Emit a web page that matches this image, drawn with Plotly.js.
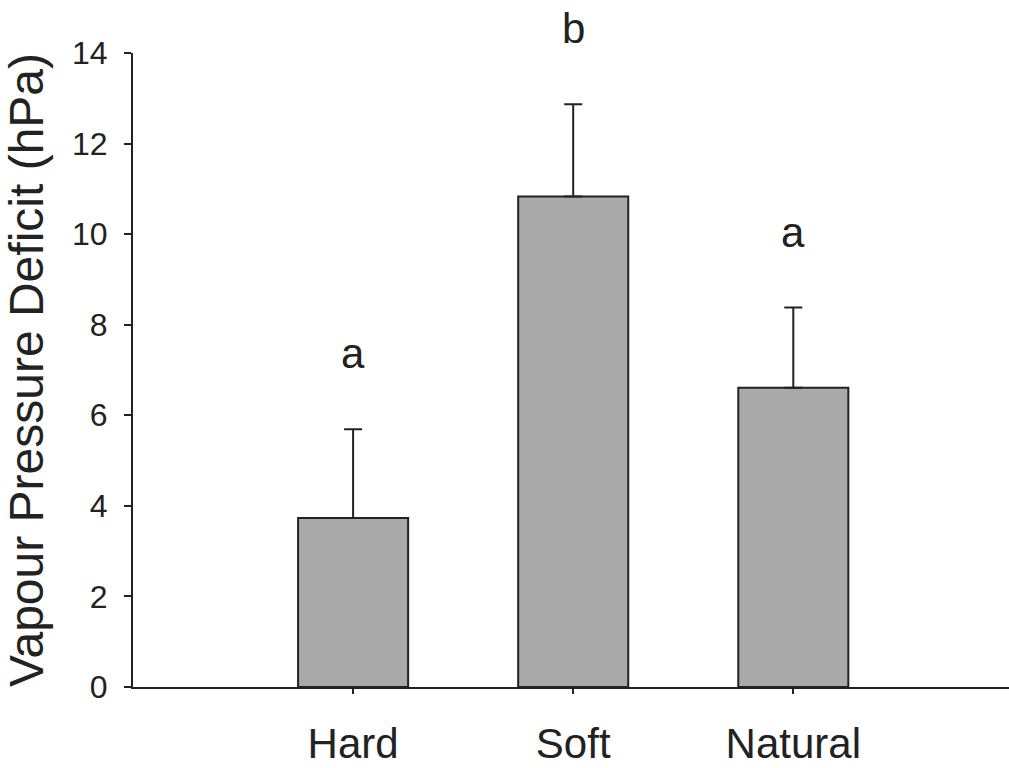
<!DOCTYPE html>
<html>
<head>
<meta charset="utf-8">
<script src="https://cdn.plot.ly/plotly-3.0.1.min.js"></script>
<style>
  html, body { margin: 0; padding: 0; background: #fff; }
  #chart { width: 1009px; height: 768px; }
</style>
</head>
<body>
<div id="chart"></div>
<script>
// Vapour pressure deficit by surface type (mean + upper error)
const categories = ['Hard', 'Soft', 'Natural'];
const vpdMean = [3.73, 10.83, 6.61];
const vpdError = [1.96, 2.04, 1.77];
const groupLetters = ['a', 'b', 'a'];
const yTickValues = [0, 2, 4, 6, 8, 10, 12, 14];

const ink = '#222222';
const fontFamily = '"Liberation Sans", Arial, Helvetica, sans-serif';

const bars = {
  type: 'bar',
  x: categories,
  y: vpdMean,
  width: 0.5,
  marker: { color: '#a9a9a9', line: { color: ink, width: 2 } },
  error_y: {
    type: 'data',
    symmetric: false,
    array: vpdError,
    arrayminus: vpdMean.map(() => 0),
    color: ink,
    thickness: 2,
    width: 9
  },
  hoverinfo: 'x+y'
};

// Significance letters sit above each error bar
const letterNotes = categories.map((c, i) => ({
  x: c,
  y: vpdMean[i] + vpdError[i],
  xref: 'x',
  yref: 'y',
  text: groupLetters[i],
  showarrow: false,
  yanchor: 'bottom',
  yshift: 50,
  font: { family: fontFamily, size: 42, color: ink }
}));

const layout = {
  width: 1009,
  height: 768,
  margin: { l: 133, r: 0, t: 53, b: 81 },
  paper_bgcolor: '#fff',
  plot_bgcolor: '#fff',
  showlegend: false,
  font: { family: fontFamily, color: ink },
  xaxis: {
    type: 'category',
    range: [-1, 2.98],
    showline: true,
    linecolor: ink,
    linewidth: 2,
    ticks: 'outside',
    ticklen: 5,
    tickwidth: 2,
    tickcolor: ink,
    showgrid: false,
    zeroline: false,
    ticklabelstandoff: 14,
    tickfont: { family: fontFamily, size: 42, color: ink }
  },
  yaxis: {
    range: [0, 14],
    tickvals: yTickValues,
    showline: true,
    linecolor: ink,
    linewidth: 2,
    ticks: 'outside',
    ticklen: 7,
    tickwidth: 2,
    tickcolor: ink,
    showgrid: false,
    zeroline: false,
    ticklabelstandoff: 10,
    tickfont: { family: fontFamily, size: 32, color: ink },
    title: {
      text: 'Vapour Pressure Deficit (hPa)',
      standoff: 18,
      font: { family: fontFamily, size: 48, color: ink }
    }
  },
  annotations: letterNotes
};

Plotly.newPlot('chart', [bars], layout, { displayModeBar: false });
</script>
</body>
</html>
